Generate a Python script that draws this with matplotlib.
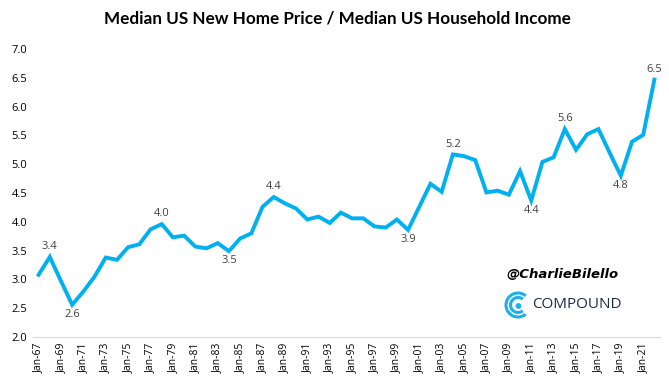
import numpy as np
import matplotlib
matplotlib.use('Agg')
from matplotlib import pyplot as plt
from matplotlib.patches import Arc, Circle

years = list(range(1967, 2023))
ratio = [3.08, 3.39, 2.97, 2.56, 2.79, 3.05, 3.38, 3.34, 3.56, 3.61,
         3.87, 3.96, 3.73, 3.76, 3.57, 3.54, 3.63, 3.49, 3.71, 3.80,
         4.26, 4.43, 4.32, 4.23, 4.04, 4.09, 3.98, 4.16, 4.06, 4.06,
         3.92, 3.90, 4.04, 3.86, 4.26, 4.66, 4.52, 5.17, 5.14, 5.07,
         4.51, 4.54, 4.47, 4.88, 4.37, 5.04, 5.12, 5.61, 5.25, 5.52,
         5.61, 5.20, 4.80, 5.39, 5.51, 6.47]
labels_above = [1968, 1978, 1988, 2004, 2014, 2022]
labels_below = [1970, 1984, 2000, 2011, 2019]
yticks = [2.0, 2.5, 3.0, 3.5, 4.0, 4.5, 5.0, 5.5, 6.0, 6.5, 7.0]

W, H = 669, 386
fig = plt.figure(figsize=(W/100, H/100), dpi=100)
ax = fig.add_axes([33/W, 1-337/H, (660-33)/W, (337-49)/H])

x = np.arange(len(years))
ax.plot(x, ratio, color='#00B0F0', lw=2.8, solid_joinstyle='miter')

for yr in labels_above + labels_below:
    i = years.index(yr)
    off = 3.5 if yr in labels_above else -3
    ax.annotate(f"{ratio[i]:.1f}", (x[i], ratio[i]), xytext=(0, off),
                textcoords='offset points', ha='center',
                va='bottom' if off > 0 else 'top',
                fontsize=8, color='#404040', family='Open Sans')

ax.set_xlim(-0.5, len(years)-0.5)
ax.set_ylim(2, 7)
ax.set_yticks(yticks)
ax.set_yticklabels([f"{v:.1f}" for v in yticks], fontsize=8, color='#000000', family='Open Sans')
ax.set_xticks(x[::2])
ax.set_xticklabels([f"Jan-{y % 100:02d}" for y in years[::2]], rotation=90,
                   fontsize=7.5, family='Open Sans')
ax.tick_params(length=0, pad=4)
for s in ['top', 'right', 'left']:
    ax.spines[s].set_visible(False)
ax.spines['bottom'].set_color('#D9D9D9')

fig.text(0.505, 1-18/H, "Median US New Home Price / Median US Household Income",
         ha='center', va='center', fontsize=12.3, fontweight='bold', family='Lato')

# watermark
fig.text(562/W, 1-275/H, "@CharlieBilello", ha='center', va='center',
         fontsize=9.5, fontweight='bold', style='italic', family='DejaVu Sans')
fig.text(532/W, 1-305/H, "COMPOUND", ha='left', va='center',
         fontsize=11, color='#1F2A44', family='Open Sans')
cx, cy = 518/100, (H-305)/100
tr = fig.dpi_scale_trans
fig.patches.append(Arc((cx, cy), 0.24, 0.24, theta1=50, theta2=310, lw=2.2,
                       color='#1BB0E8', transform=tr, figure=fig))
fig.patches.append(Arc((cx, cy), 0.15, 0.15, theta1=50, theta2=310, lw=2.2,
                       color='#1BB0E8', transform=tr, figure=fig))
fig.patches.append(Circle((cx+0.005, cy-0.01), 0.022, color='#1BB0E8',
                          transform=tr, figure=fig))

fig.savefig('out.png', dpi=100)
